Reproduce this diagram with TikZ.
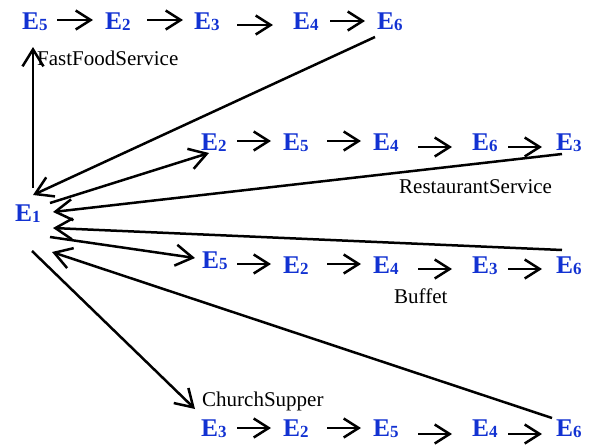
\documentclass[tikz,border=0pt]{standalone}
\usepackage{fontspec}
\setmainfont{Liberation Serif}
\usetikzlibrary{arrows.meta}
\definecolor{evblue}{RGB}{18,50,210}
\newcommand{\ev}[1]{E\raisebox{-1.6pt}{\fontsize{17}{17}\selectfont #1}}
\tikzset{
  event/.style={anchor=base west, inner sep=0pt, text=evblue,
    font=\fontsize{25.5}{25.5}\selectfont\bfseries},
  tag/.style={anchor=base west, inner sep=0pt, font=\fontsize{21}{21}\selectfont},
  seqarrow/.style={line width=2.5pt, -{Straight Barb[length=15pt,width=19pt,line width=2.5pt]}},
  link/.style={line width=2.5pt, -{Straight Barb[length=17pt,width=21pt,line width=2.5pt]}},
}
\begin{document}
\begin{tikzpicture}[x=1pt,y=-1pt]
\useasboundingbox (0,0) rectangle (589,445);

% start event
\node[event] (e1) at (15,221) {\ev{1}};

% FastFoodService sequence
\node[event] (a1) at (22,29) {\ev{5}};
\node[event] (a2) at (105,29) {\ev{2}};
\node[event] (a3) at (194,29) {\ev{3}};
\node[event] (a4) at (293,29) {\ev{4}};
\node[event] (a5) at (377,29) {\ev{6}};
\node[tag] (t1) at (37,65) {FastFoodService};

% RestaurantService sequence
\node[event] (b1) at (201,150) {\ev{2}};
\node[event] (b2) at (283,150) {\ev{5}};
\node[event] (b3) at (373,150) {\ev{4}};
\node[event] (b4) at (472,150) {\ev{6}};
\node[event] (b5) at (556,150) {\ev{3}};
\node[tag] (t2) at (399,193) {RestaurantService};

% Buffet sequence
\node[event] (c1) at (202,268) {\ev{5}};
\node[event] (c2) at (283,273) {\ev{2}};
\node[event] (c3) at (373,273) {\ev{4}};
\node[event] (c4) at (472,273) {\ev{3}};
\node[event] (c5) at (556,273) {\ev{6}};
\node[tag] (t3) at (394,303) {Buffet};

% ChurchSupper sequence
\node[event] (d1) at (201,436) {\ev{3}};
\node[event] (d2) at (283,436) {\ev{2}};
\node[event] (d3) at (373,436) {\ev{5}};
\node[event] (d4) at (472,436) {\ev{4}};
\node[event] (d5) at (556,436) {\ev{6}};
\node[tag] (t4) at (202,406) {ChurchSupper};

% arrows inside each sequence
\draw[seqarrow] ([shift={(35pt,9pt)}]a1.base west) -- ([shift={(-12pt,9pt)}]a2.base west);
\draw[seqarrow] ([shift={(42pt,9pt)}]a2.base west) -- ([shift={(-11pt,9pt)}]a3.base west);
\draw[seqarrow] ([shift={(43pt,4pt)}]a3.base west) -- ([shift={(-20pt,4pt)}]a4.base west);
\draw[seqarrow] ([shift={(37pt,8pt)}]a4.base west) -- ([shift={(-12pt,8pt)}]a5.base west);

\draw[seqarrow] ([shift={(36pt,9pt)}]b1.base west) -- ([shift={(-12pt,9pt)}]b2.base west);
\draw[seqarrow] ([shift={(44pt,9pt)}]b2.base west) -- ([shift={(-12pt,9pt)}]b3.base west);
\draw[seqarrow] ([shift={(45pt,3pt)}]b3.base west) -- ([shift={(-20pt,3pt)}]b4.base west);
\draw[seqarrow] ([shift={(36pt,3pt)}]b4.base west) -- ([shift={(-14pt,3pt)}]b5.base west);

\draw[seqarrow] ([shift={(35pt,4pt)}]c1.base west) -- ([shift={(-12pt,9pt)}]c2.base west);
\draw[seqarrow] ([shift={(44pt,9pt)}]c2.base west) -- ([shift={(-12pt,9pt)}]c3.base west);
\draw[seqarrow] ([shift={(45pt,4pt)}]c3.base west) -- ([shift={(-20pt,4pt)}]c4.base west);
\draw[seqarrow] ([shift={(36pt,4pt)}]c4.base west) -- ([shift={(-14pt,4pt)}]c5.base west);

\draw[seqarrow] ([shift={(36pt,8pt)}]d1.base west) -- ([shift={(-12pt,8pt)}]d2.base west);
\draw[seqarrow] ([shift={(44pt,8pt)}]d2.base west) -- ([shift={(-12pt,8pt)}]d3.base west);
\draw[seqarrow] ([shift={(45pt,2pt)}]d3.base west) -- ([shift={(-20pt,2pt)}]d4.base west);
\draw[seqarrow] ([shift={(36pt,2pt)}]d4.base west) -- ([shift={(-14pt,2pt)}]d5.base west);

% links between E1 and the sequences
\draw[link] ([shift={(18pt,33pt)}]e1.base west) -- ([shift={(11pt,-18pt)}]a1.base west);
\draw[link] ([shift={(-2pt,-8pt)}]a5.base west) -- ([shift={(18pt,26pt)}]e1.base west);
\draw[link] ([shift={(35pt,18pt)}]e1.base west) -- ([shift={(8pt,-3pt)}]b1.base west);
\draw[link] ([shift={(6pt,-4pt)}]b5.base west) -- ([shift={(38pt,9pt)}]e1.base west);
\draw[link] ([shift={(6pt,23pt)}]c5.base west) -- ([shift={(38pt,-7pt)}]e1.base west);
\draw[link] ([shift={(35pt,-16pt)}]e1.base west) -- ([shift={(-7pt,10pt)}]c1.base west);
\draw[link] ([shift={(-4pt,18pt)}]d5.base west) -- ([shift={(37pt,-31pt)}]e1.base west);
\draw[link] ([shift={(17pt,-30pt)}]e1.base west) -- ([shift={(-6pt,27pt)}]d1.base west);
\end{tikzpicture}
\end{document}
